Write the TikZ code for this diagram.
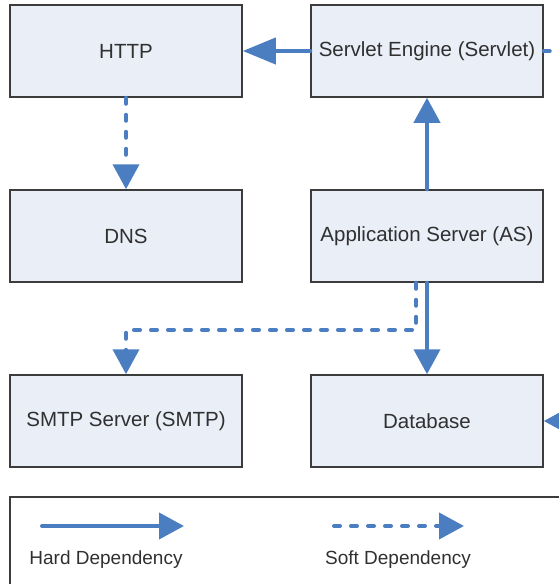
\documentclass[tikz,border=0pt]{standalone}
\usepackage{fontspec}
\setmainfont{Liberation Sans}
\usetikzlibrary{arrows.meta,calc}

\definecolor{depblue}{HTML}{4A7EC0}
\definecolor{boxfill}{HTML}{E9EEF7}
\definecolor{boxline}{HTML}{3C3C3C}
\definecolor{textgray}{HTML}{303030}

\tikzset{
  server/.style={draw=boxline, line width=1.5pt, fill=boxfill,
    minimum width=232pt, minimum height=92pt, inner sep=0pt,
    text=textgray, font=\fontsize{20.5}{24}\selectfont},
  legendtext/.style={text=textgray, inner sep=0pt, font=\fontsize{19}{22}\selectfont},
  hard/.style={draw=depblue, line width=4pt, line cap=round,
    -{Triangle[length=25pt,width=26pt]}},
  soft/.style={hard, dash pattern=on 6pt off 11pt},
}

\begin{document}
\begin{tikzpicture}[x=1pt, y=-1pt]

    % Page
    \useasboundingbox (0,0) rectangle (559,584);
    \clip (0,0) rectangle (559,584);

    % Servers
    \node[server] (http)    at (126,51)  {HTTP};
    \node[server] (servlet) at (427,51)  {Servlet Engine (Servlet)};
    \node[server] (dns)     at (126,236) {DNS};
    \node[server] (as)      at (427,236) {Application Server (AS)};
    \node[server] (smtp)    at (126,421) {SMTP Server (SMTP)};
    \node[server] (db)      at (427,421) {Database};

    % Hard dependencies
    \draw[hard, -{Triangle[length=33pt,width=26pt]}] (servlet) -- (http);
    \draw[hard] (as) -- (servlet);
    \draw[hard] (as) -- (db);

    % Soft dependencies
    \draw[soft] (http) -- (dns);
    \coordinate (asout) at ($(as.south)+(-11,0)$);
    \draw[soft] (asout) -- ++(0,47) -| (smtp);

    % Edges leaving the picture
    \coordinate (farright) at (620,51);
    \draw[soft] (servlet) -- (farright);
    \coordinate (farsource) at (640,421);
    \draw[hard] (farsource) -- (db);

    % --- Legend ---
    \draw[boxline, line width=1.5pt] (10,497) rectangle (620,650);

    \coordinate (hardA) at (42,526);
    \coordinate (hardB) at (184,526);
    \draw[hard] (hardA) -- (hardB);
    \node[legendtext] (hardlbl) at (106,560) {Hard Dependency};

    \coordinate (softA) at (334,526);
    \coordinate (softB) at (464,526);
    \draw[soft] (softA) -- (softB);
    \node[legendtext] (softlbl) at (398,560) {Soft Dependency};

\end{tikzpicture}
\end{document}
